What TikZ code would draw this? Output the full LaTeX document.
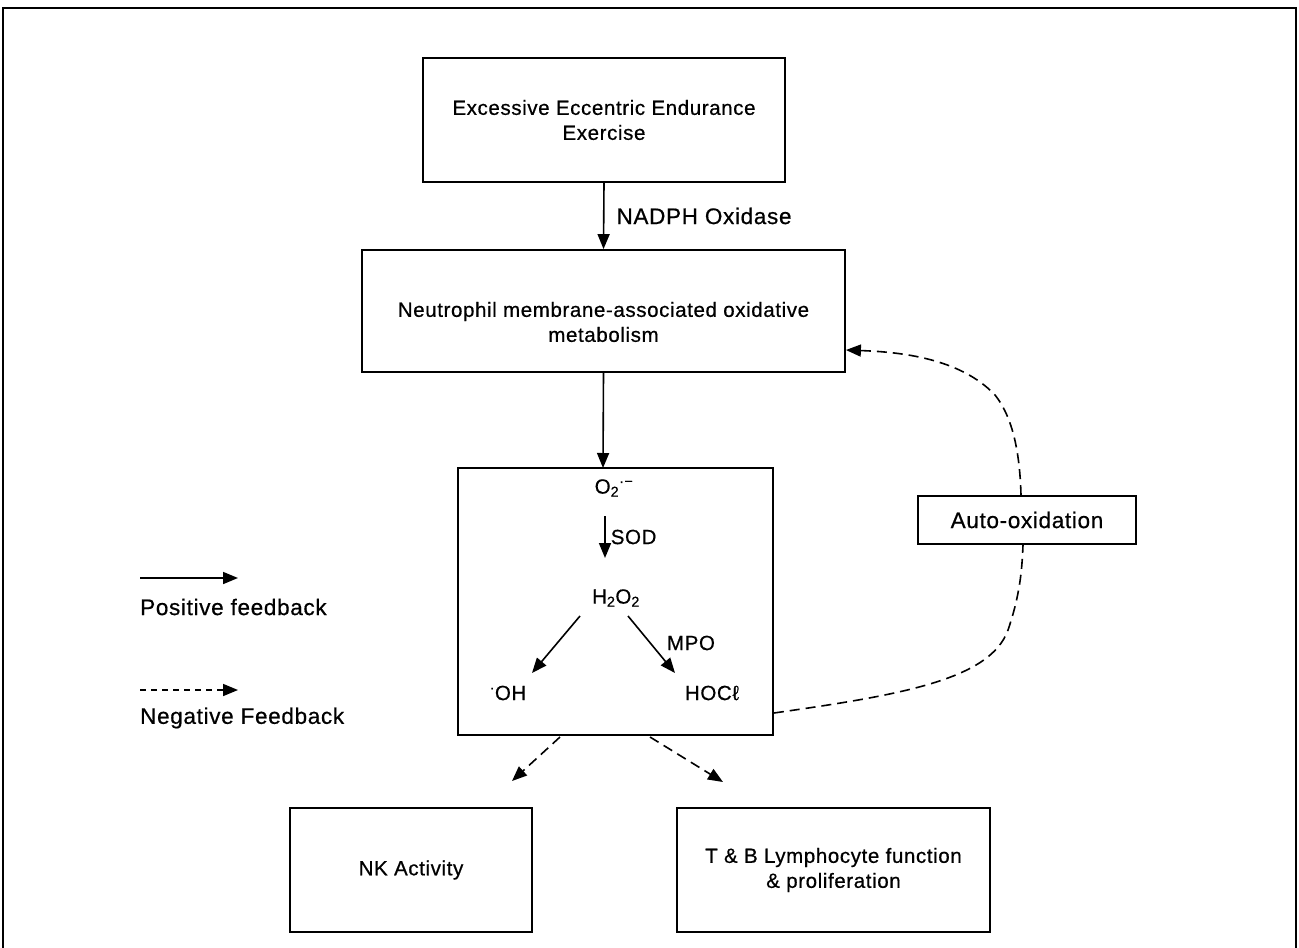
\documentclass[tikz,border=0pt]{standalone}
\usepackage{fontspec}
\setmainfont{Liberation Sans}[LetterSpace=3,FakeBold=0.6]
\usetikzlibrary{arrows.meta}
\begin{document}
\begin{tikzpicture}[x=1pt,y=-1pt,
  box/.style={draw,line width=1.8pt,align=center,inner sep=0pt,font=\fontsize{20.5}{25}\selectfont},
  lbl/.style={font=\fontsize{22.5}{25}\selectfont,inner sep=0pt},
  chem/.style={font=\fontsize{20.5}{23}\selectfont,inner sep=0pt},
  posarrow/.style={line width=1.6pt,-{Triangle[length=15pt,width=12pt]}},
  negarrow/.style={line width=1.6pt,dash pattern=on 10pt off 6pt,-{Triangle[length=15pt,width=12pt]}}]
\useasboundingbox (0,0) rectangle (1299,948);
\draw[line width=1.2pt] (3,952) -- (3,8) -- (1296,8) -- (1296,952);
% boxes
\node[box,minimum width=362pt,minimum height=124pt] (ex) at (604,120) {Excessive Eccentric Endurance\\Exercise};
\node[box,minimum width=483pt,minimum height=122pt] (neu) at (603.5,311) {};
\node[align=center,inner sep=0pt,font=\fontsize{20.5}{25}\selectfont] (neutxt) at (603.5,322) {Neutrophil membrane-associated oxidative\\metabolism};
\node[box,minimum width=315pt,minimum height=267pt] (mid) at (615.5,601.5) {};
\node[box,minimum width=218pt,minimum height=48pt,font=\fontsize{22.5}{25}\selectfont] (auto) at (1027,520) {Auto-oxidation};
\node[box,minimum width=242pt,minimum height=124pt] (nk) at (411,870) {NK Activity};
\node[box,minimum width=313pt,minimum height=124pt] (tb) at (833.5,870) {T \& B Lymphocyte function\\\& proliferation};
% top arrows
\draw[posarrow] (ex.south) -- (neu.north) node[midway,right=12pt,lbl] (nadph) {NADPH Oxidase};
\draw[posarrow] (neu.south) -- (603,468);
% inside middle box
\node[chem] (o2) at (614,488) {O\textsubscript{2}\textsuperscript{·−}};
\node[chem] (h2o2) at (616,598) {H\textsubscript{2}O\textsubscript{2}};
\node[chem] (oh) at (508,693) {\textsuperscript{·}OH};
\node[chem] (hocl) at (712,693) {HOCℓ};
\coordinate (s1) at (605,516);
\coordinate (s2) at (605,558);
\draw[posarrow] (s1) -- (s2) node[midway,right=5pt,chem] (sod) {SOD};
\coordinate (a1) at (580,616);
\coordinate (a2) at (532,673);
\coordinate (b1) at (628,616);
\coordinate (b2) at (675,673);
\draw[posarrow] (a1) -- (a2);
\draw[posarrow] (b1) -- (b2);
\node[chem] (mpo) at (691,643) {MPO};
% dashed feedback
\coordinate (m1) at (560,737);
\coordinate (m2) at (650,737);
\draw[negarrow] (m1) -- (512,781);
\draw[negarrow] (m2) -- (723,782);
\draw[line width=1.6pt,dash pattern=on 10pt off 6pt] (mid.east |- 0,713) .. controls (900,695) and (990,680) .. (1008,630) .. controls (1020,595) and (1022,570) .. (auto.south -| 1023,0);
\draw[negarrow] (auto.north -| 1021,0) .. controls (1020,460) and (1015,420) .. (995,395) .. controls (960,358) and (900,352) .. (neu.east |- 0,350);
% legend
\coordinate (l1) at (140,578);
\coordinate (l2) at (238,578);
\draw[posarrow] (l1) -- (l2);
\node[lbl,anchor=west] (ptxt) at (140,607) {Positive feedback};
\coordinate (l3) at (140,690);
\coordinate (l4) at (238,690);
\draw[line width=1.6pt,dash pattern=on 6pt off 5pt,-{Triangle[length=15pt,width=12pt]}] (l3) -- (l4);
\node[lbl,anchor=west] (ntxt) at (140,718) {Negative Feedback};
\end{tikzpicture}
\end{document}
